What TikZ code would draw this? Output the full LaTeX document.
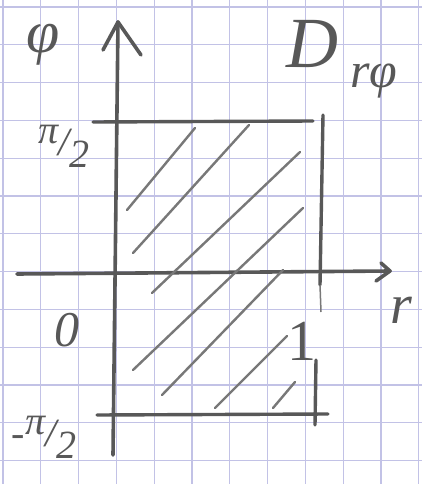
\documentclass[tikz,border=0pt]{standalone}
\usepackage{fontspec}
\setmainfont{Liberation Serif}
\definecolor{pencil}{RGB}{88,88,88}
\definecolor{hatchc}{RGB}{120,120,120}
\definecolor{gridc}{RGB}{194,194,230}
\newcommand{\hfrac}[2]{\raisebox{0.3em}{#1}/\raisebox{-0.3em}{#2}}
\begin{document}
\begin{tikzpicture}[x=1pt,y=-1pt,
  gridline/.style={draw=gridc,line width=1.1pt},
  axis/.style={draw=pencil,line width=3.6pt,line cap=round,line join=round},
  edge/.style={draw=pencil,line width=3.4pt,line cap=round},
  hatchline/.style={draw=hatchc,line width=2.4pt,line cap=round},
  lab/.style={text=pencil,inner sep=0pt}]
\useasboundingbox (0,0) rectangle (422,484);
\fill[white] (0,0) rectangle (422,484);
% grid paper
\foreach \i in {0,...,11} \draw[gridline] ({3+37.8*\i},0) -- ({3+37.8*\i},484);
\foreach \j in {0,...,12} \draw[gridline] (0,{7+37.8*\j}) -- (422,{7+37.8*\j});
% axes
\coordinate (ytop) at (118,22);
\coordinate (ybot) at (113,455);
\coordinate (yal) at (103,50);
\coordinate (yar) at (141,55);
\draw[axis] (ybot) -- (ytop);
\draw[axis] (yal) -- (ytop) -- (yar);
\coordinate (xlft) at (17,274);
\coordinate (xrgt) at (390,271);
\coordinate (xau) at (381,263);
\coordinate (xad) at (376,281);
\draw[axis] (xlft) -- (xrgt);
\draw[axis] (xau) -- (xrgt) -- (xad);
% rectangle
\coordinate (t1) at (93,122); \coordinate (t2) at (313,121);
\coordinate (r1) at (323,115); \coordinate (r2) at (320,285); \coordinate (r3) at (321,312);
\coordinate (r4) at (316,360); \coordinate (r5) at (315,425);
\coordinate (b1) at (97,415); \coordinate (b2) at (328,414);
\draw[edge] (t1) -- (t2);
\draw[edge] (r1) -- (r2);
\draw[draw=hatchc,line width=1.5pt] (r2) -- (r3);
\draw[edge] (r4) -- (r5);
\draw[edge] (b1) -- (b2);
% hatching
\coordinate (h1a) at (127,210); \coordinate (h1b) at (195,128);
\coordinate (h2a) at (133,253); \coordinate (h2b) at (249,125);
\coordinate (h3a) at (152,293); \coordinate (h3b) at (300,152);
\coordinate (h4a) at (133,370); \coordinate (h4b) at (303,208);
\coordinate (h5a) at (162,395); \coordinate (h5b) at (283,270);
\coordinate (h6a) at (215,408); \coordinate (h6b) at (287,336);
\coordinate (h7a) at (273,408); \coordinate (h7b) at (295,382);
\foreach \k in {1,...,7} \draw[hatchline] (h\k a) -- (h\k b);
% labels
\node[lab,font=\fontsize{60}{60}\selectfont\itshape] (phi) at (43,45) {φ};
\node[lab,font=\fontsize{40}{40}\selectfont\itshape] (pihalf) at (64,146) {\hfrac{π}{2}};
\node[lab,font=\fontsize{72}{72}\selectfont\itshape,anchor=base west] (dom) at (286,68) {D};
\node[lab,font=\fontsize{50}{50}\selectfont\itshape,anchor=base west] (domsub) at (350,88) {rφ};
\node[lab,font=\fontsize{50}{50}\selectfont\itshape] (zero) at (67,330) {0};
\node[lab,font=\fontsize{40}{40}\selectfont\itshape] (mpihalf) at (44,437) {-\hfrac{π}{2}};
\node[lab,font=\fontsize{56}{56}\selectfont\itshape] (rlab) at (401,310) {r};
\node[lab,font=\fontsize{58}{58}\selectfont] (one) at (302,341) {1};
\end{tikzpicture}
\end{document}
